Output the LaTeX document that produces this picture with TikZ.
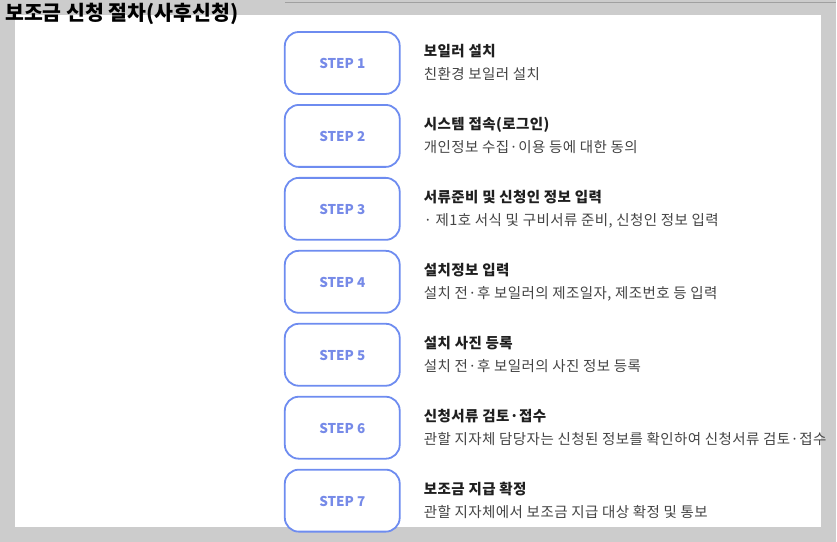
\documentclass[tikz,border=0pt]{standalone}
\usepackage{fontspec}
\setmainfont{Noto Sans CJK KR}
\newfontfamily\wide[LetterSpace=3]{Noto Sans CJK KR}
\usepackage{tikz}

\definecolor{pagegray}{RGB}{204,204,204}
\definecolor{rulegray}{RGB}{160,160,160}
\definecolor{stepblue}{RGB}{110,140,240}
\definecolor{steptext}{RGB}{118,138,232}
\definecolor{desctext}{RGB}{68,68,68}

\begin{document}
\begin{tikzpicture}[x=1pt,y=-1pt,
              step box/.style={draw=stepblue,fill=white,line width=1.8pt,rounded corners=14pt,
                minimum width=115pt,minimum height=62pt,inner sep=0pt,
                text height=11.9pt,text depth=0pt,
                text=steptext,font=\fontsize{13.5}{16}\selectfont\bfseries},
              head text/.style={anchor=west,inner sep=0pt,text=black!88,
                text height=11pt,text depth=0pt,
                font=\wide\fontsize{14.5}{17}\selectfont\bfseries},
              desc text/.style={anchor=west,inner sep=0pt,text=desctext,
                text height=11pt,text depth=0pt,
                font=\wide\fontsize{14.5}{17}\selectfont}]

            % background and panel
            \fill[pagegray] (0,0) rectangle (837,542);
            \fill[white] (15,15) rectangle (822,527);
            \draw[rulegray,line width=1.2pt] (285,2.5) -- (837,2.5);

            \node[anchor=west,inner sep=0pt,font=\fontsize{20.5}{24}\selectfont\bfseries]
              (title) at (5,13.5) {보조금 신청 절차(사후신청)};

            \node[step box] (S1) at (342.5,63) {STEP 1};
            \node[step box] (S2) at (342.5,136) {STEP 2};
            \node[step box] (S3) at (342.5,209) {STEP 3};
            \node[step box] (S4) at (342.5,282) {STEP 4};
            \node[step box] (S5) at (342.5,355) {STEP 5};
            \node[step box] (S6) at (342.5,428) {STEP 6};
            \node[step box] (S7) at (342.5,501) {STEP 7};

            \node[head text] (T1) at (424,51) {보일러 설치};
            \node[desc text] (D1) at (424,74) {친환경 보일러 설치};
            \node[head text] (T2) at (424,124) {시스템 접속(로그인)};
            \node[desc text] (D2) at (424,147) {개인정보 수집·이용 등에 대한 동의};
            \node[head text] (T3) at (424,197) {서류준비 및 신청인 정보 입력};
            \node[desc text] (D3) at (424,220) {· 제1호 서식 및 구비서류 준비, 신청인 정보 입력};
            \node[head text] (T4) at (424,270) {설치정보 입력};
            \node[desc text] (D4) at (424,293) {설치 전·후 보일러의 제조일자, 제조번호 등 입력};
            \node[head text] (T5) at (424,343) {설치 사진 등록};
            \node[desc text] (D5) at (424,366) {설치 전·후 보일러의 사진 정보 등록};
            \node[head text] (T6) at (424,416) {신청서류 검토·접수};
            \node[desc text] (D6) at (424,439) {관할 지자체 담당자는 신청된 정보를 확인하여 신청서류 검토·접수};
            \node[head text] (T7) at (424,489) {보조금 지급 확정};
            \node[desc text] (D7) at (424,512) {관할 지자체에서 보조금 지급 대상 확정 및 통보};

          \end{tikzpicture}
\end{document}
